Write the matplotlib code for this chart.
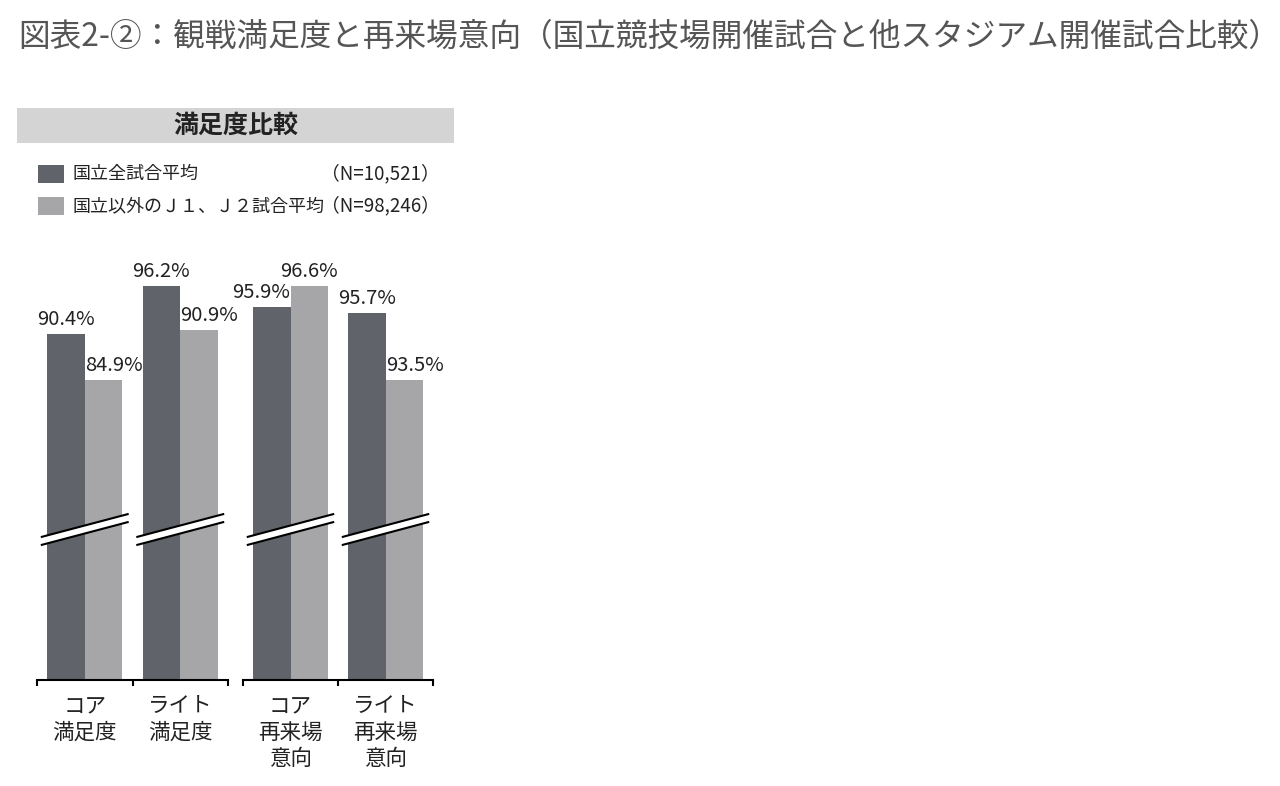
import matplotlib
matplotlib.use("Agg")
import matplotlib.pyplot as plt
from matplotlib.patches import Rectangle, Polygon
from matplotlib.transforms import blended_transform_factory

plt.rcParams["font.family"] = ["Noto Sans CJK JP", "DejaVu Sans"]

TITLE = "図表2-②：観戦満足度と再来場意向（国立競技場開催試合と他スタジアム開催試合比較）"
PANEL_TITLE = "満足度比較"
SERIES_NAMES = ["国立全試合平均", "国立以外のＪ１、Ｊ２試合平均"]
SERIES_N = ["（N=10,521）", "（N=98,246）"]

SAT_CATEGORIES = ["コア\n満足度", "ライト\n満足度"]
SAT_KOKURITSU = [90.4, 96.2]
SAT_OTHERS = [84.9, 90.9]

REV_CATEGORIES = ["コア\n再来場\n意向", "ライト\n再来場\n意向"]
REV_KOKURITSU = [95.9, 95.7]
REV_OTHERS = [96.6, 93.5]

# the value axis is cut (break marks), each panel starts at its own value
SAT_YLIM = (48.84, 100.52)
REV_YLIM = (83.6, 97.78)

DARK = "#606369"
LIGHT = "#A6A6A8"
W, H = 1280, 786


def fx(px):
    return px / W


def fy(py):
    return 1 - py / H


def draw_panel(fig, left, right, categories, dark_vals, light_vals, ylim, shifts):
    ax = fig.add_axes([fx(left), fy(680), (right - left) / W, 430 / H])
    x = list(range(len(categories)))
    bw = 0.395
    dark = ax.bar([i - bw / 2 for i in x], dark_vals, bw, color=DARK)
    light = ax.bar([i + bw / 2 for i in x], light_vals, bw, color=LIGHT)
    ax.set_xlim(-0.5, len(categories) - 0.5)
    ax.set_ylim(*ylim)

    for bars, vals, sh in [(dark, dark_vals, shifts[0]), (light, light_vals, shifts[1])]:
        for b, v, dx in zip(bars, vals, sh):
            ax.annotate(f"{v:.1f}%", (b.get_x() + b.get_width() / 2, v),
                        xytext=(dx * 0.72, 3.0), textcoords="offset points",
                        ha="center", va="bottom", fontsize=14.5, color="#222222",
                        annotation_clip=False)

    # break marks
    tr = blended_transform_factory(ax.transData, ax.transAxes)
    half = 0.46
    rise = 23 / 87 * (2 * half * 95.5) / 2 / 430
    for i in x:
        up = 154.5 / 430
        lo = 146.5 / 430
        ax.add_patch(Polygon([(i - half, lo - rise), (i + half, lo + rise),
                              (i + half, up + rise), (i - half, up - rise)],
                             closed=True, transform=tr, facecolor="white",
                             edgecolor="none", zorder=3))
        for yy in (up, lo):
            ax.plot([i - half, i + half], [yy - rise, yy + rise], transform=tr,
                    color="black", lw=1.5, zorder=4, solid_capstyle="butt")

    for s in ["top", "left", "right"]:
        ax.spines[s].set_visible(False)
    ax.spines["bottom"].set_linewidth(1.5)
    ax.set_yticks([])
    ax.set_xticks(x, categories, fontsize=15.5, linespacing=1.25)
    ax.tick_params(axis="x", which="major", length=0, pad=11, colors="#222222")
    ax.set_xticks([-0.5 + k for k in range(len(categories) + 1)], minor=True)
    ax.tick_params(axis="x", which="minor", length=4.5, width=1.5, direction="out")
    return ax


fig = plt.figure(figsize=(12.8, 7.86), dpi=100)

fig.text(fx(18), fy(37), TITLE, fontsize=22.8, color="#555555", va="center", ha="left")

fig.add_artist(Rectangle((fx(17), fy(143)), (454 - 17) / W, 35 / H,
                         transform=fig.transFigure, facecolor="#D4D4D4", edgecolor="none"))
fig.text(fx(236), fy(126), PANEL_TITLE, fontsize=18, fontweight="bold",
         ha="center", va="center", color="#222222")

for k, (name, n, col) in enumerate(zip(SERIES_NAMES, SERIES_N, [DARK, LIGHT])):
    yc = 174 + 32 * k
    fig.add_artist(Rectangle((fx(38), fy(yc + 9)), 26 / W, 18 / H,
                             transform=fig.transFigure, facecolor=col, edgecolor="none"))
    fig.text(fx(73), fy(yc), name, fontsize=13, va="center", ha="left", color="#222222")
    fig.text(fx(440), fy(yc), n, fontsize=13.5, va="center", ha="right", color="#222222")

draw_panel(fig, 37, 228, SAT_CATEGORIES, SAT_KOKURITSU, SAT_OTHERS, SAT_YLIM,
           [[0, 0], [10, 10]])
draw_panel(fig, 243, 433, REV_CATEGORIES, REV_KOKURITSU, REV_OTHERS, REV_YLIM,
           [[-11, 0], [0, 11]])

fig.savefig("out.png", dpi=100)
